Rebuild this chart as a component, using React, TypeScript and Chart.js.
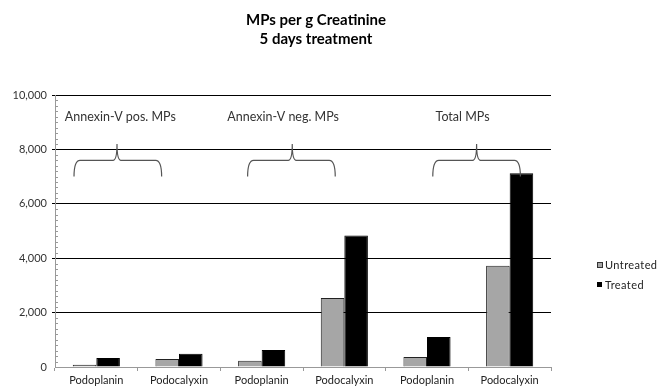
import React, { useEffect, useRef } from "react";
import { Chart, registerables } from "chart.js";

Chart.register(...registerables);

const categories = ["Podoplanin", "Podocalyxin", "Podoplanin", "Podocalyxin", "Podoplanin", "Podocalyxin"];
const untreated = [80, 295, 230, 2540, 370, 3720];
const treated = [330, 490, 625, 4830, 1100, 7120];
const seriesNames = ["Untreated", "Treated"];
const titleLines = ["MPs per g Creatinine", "5 days treatment"];
const groupLabels = ["Annexin-V pos. MPs", "Annexin-V neg. MPs", "Total MPs"];
const yTicks = [0, 2000, 4000, 6000, 8000, 10000];

const FONT = "Lato, 'Open Sans', sans-serif";
const GRAY = "#a6a6a6";

// brace geometry in category-index units (left, center, right) and label centers
const braceSpans = [
  [-0.27, 0.25, 0.79],
  [1.83, 2.37, 2.89],
  [4.07, 4.6, 5.13],
];
const labelCenters = [0.29, 2.26, 4.43];

const decorPlugin = {
  id: "decor",
  afterDraw(chart: any) {
    const { ctx, scales, chartArea } = chart;
    const x = scales.x;
    const y = scales.y;
    const px = (i: number) => x.getPixelForValue(0) + i * (x.getPixelForValue(1) - x.getPixelForValue(0));
    ctx.save();
    // minor ticks on y axis
    ctx.strokeStyle = "#999";
    ctx.lineWidth = 1;
    for (let v = 200; v < 10000; v += 200) {
      if (v % 2000 === 0) continue;
      const yy = Math.round(y.getPixelForValue(v)) + 0.5;
      ctx.beginPath();
      ctx.moveTo(chartArea.left, yy);
      ctx.lineTo(chartArea.left + 3, yy);
      ctx.stroke();
    }
    // title
    ctx.fillStyle = "#000";
    ctx.font = `bold 15px ${FONT}`;
    ctx.textAlign = "center";
    ctx.textBaseline = "middle";
    ctx.fillText(titleLines[0], 316, 20);
    ctx.fillText(titleLines[1], 316, 39);
    // group labels
    ctx.font = `12.5px ${FONT}`;
    ctx.fillStyle = "#333";
    groupLabels.forEach((t, i) => {
      ctx.fillText(t, px(labelCenters[i]), y.getPixelForValue(9180));
    });
    // braces
    ctx.strokeStyle = "#555";
    ctx.lineWidth = 1.2;
    const yb = y.getPixelForValue(7000);
    const yh = y.getPixelForValue(7600);
    const yp = y.getPixelForValue(8200);
    braceSpans.forEach(([l, c, r]) => {
      const xl = px(l), xc = px(c), xr = px(r);
      ctx.beginPath();
      ctx.moveTo(xl, yb);
      ctx.quadraticCurveTo(xl, yh, xl + 6, yh);
      ctx.lineTo(xc - 4, yh);
      ctx.quadraticCurveTo(xc, yh, xc, yp);
      ctx.quadraticCurveTo(xc, yh, xc + 4, yh);
      ctx.lineTo(xr - 6, yh);
      ctx.quadraticCurveTo(xr, yh, xr, yb);
      ctx.stroke();
    });
    // legend
    ctx.textAlign = "left";
    ctx.font = `11px ${FONT}`;
    ctx.fillStyle = GRAY;
    ctx.fillRect(597, 262, 6, 6);
    ctx.strokeStyle = "#333";
    ctx.lineWidth = 1;
    ctx.strokeRect(597.5, 262.5, 5, 5);
    ctx.fillStyle = "#000";
    ctx.fillRect(597, 282, 5, 5);
    ctx.fillStyle = "#222";
    (ctx as any).letterSpacing = "0.4px";
    ctx.fillText(seriesNames[0], 605, 265.5);
    ctx.fillText(seriesNames[1], 605, 285);
    ctx.restore();
  },
};

export default function App() {
  const ref = useRef<HTMLCanvasElement>(null);
  useEffect(() => {
    document.body.style.margin = "0";
    const chart = new Chart(ref.current as HTMLCanvasElement, {
      type: "bar",
      data: {
        labels: categories,
        datasets: [
          { label: seriesNames[0], data: untreated, backgroundColor: GRAY, borderColor: "#222", borderWidth: 1 },
          { label: seriesNames[1], data: treated, backgroundColor: "#000", borderColor: "#000", borderWidth: 1 },
        ],
      },
      options: {
        animation: false,
        responsive: false,
        layout: { padding: { top: 95, right: 108, left: 0, bottom: 0 } },
        datasets: { bar: { categoryPercentage: 0.57, barPercentage: 1 } },
        plugins: { legend: { display: false }, title: { display: false }, tooltip: { enabled: false } },
        scales: {
          x: {
            afterFit: (s: any) => { s.height = 23; },
            grid: { display: true, drawOnChartArea: false, color: "#999", tickLength: 4 },
            border: { color: "#999" },
            ticks: { color: "#222", font: { family: FONT, size: 11 }, padding: 3, maxRotation: 0 },
          },
          y: {
            min: 0,
            max: 10000,
            afterFit: (s: any) => { s.width = 55; },
            afterBuildTicks: (s: any) => { s.ticks = yTicks.map((v) => ({ value: v })); },
            grid: {
              color: (c: any) => (c.tick && c.tick.value === 0 ? "rgba(0,0,0,0)" : "#000"),
              tickLength: 3,
            },
            border: { color: "#999" },
            ticks: {
              color: "#333",
              font: { family: FONT, size: 11 },
              padding: 5,
              callback: (v: any) => Number(v).toLocaleString("en-US"),
            },
          },
        },
      },
      plugins: [decorPlugin],
    } as any);
    return () => chart.destroy();
  }, []);
  return (
    <div style={{ width: 659, height: 390, background: "#fff" }}>
      <canvas ref={ref} width={659} height={390} />
    </div>
  );
}
